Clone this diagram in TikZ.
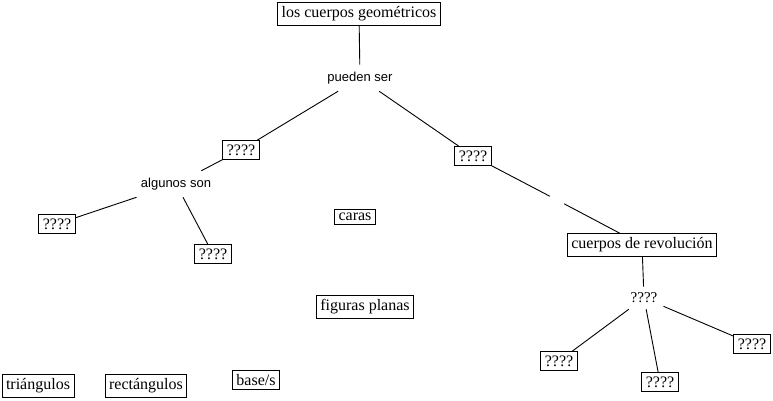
\documentclass[tikz,border=0pt]{standalone}
\usepackage{fontspec}
\setmainfont{Liberation Serif}
\newfontfamily\phrasefont{Liberation Sans}
\usetikzlibrary{positioning}

\begin{document}
\begin{tikzpicture}[x=1pt, y=-1pt, font=\fontsize{16}{18}\selectfont,
  concept/.style={draw, line width=0.9pt, inner xsep=4pt, inner ysep=4pt},
  phrase/.style={font=\phrasefont\fontsize{13}{15}\selectfont, inner sep=7pt},
  link/.style={line width=0.9pt}]

\useasboundingbox (0,0) rectangle (773,401);

%main concept and its linking phrase
\node[concept] (cuerpos) at (359,14) {los cuerpos geométricos};
\node[phrase] (pueden) at (360,78) {pueden ser};

%left branch
\node[concept] (tipoA) at (241,150) {????};
\node[phrase] (algunos) at (176,184) {algunos son};
\node[concept] (algA) at (57,224) {????};
\node[concept] (algB) at (213,254) {????};

%right branch, the middle of the line is left blank
\node[concept] (tipoB) at (473,156) {????};
\node[inner sep=0pt, minimum size=14pt] (blank) at (557,200) {};
\node[concept] (revol) at (642,245) {cuerpos de revolución};
\node[inner sep=6pt, font=\fontsize{15}{17}\selectfont] (revq) at (644,298) {????};
\node[concept] (revA) at (559,361) {????};
\node[concept] (revB) at (660,382) {????};
\node[concept] (revC) at (752,344) {????};

%loose concepts, not yet linked
\node[concept] (caras) at (355,217) {caras};
\node[concept] (figuras) at (365,307) {figuras planas};
\node[concept] (triang) at (38,386) {triángulos};
\node[concept] (rect) at (146,386) {rectángulos};
\node[concept] (bases) at (256,380) {base/s};

%all connections
\foreach \a/\b in {cuerpos/pueden, pueden/tipoA, pueden/tipoB,
    tipoA/algunos, algunos/algA, algunos/algB,
    tipoB/blank, blank/revol, revol/revq,
    revq/revA, revq/revB, revq/revC} {
    \draw[link] (\a) -- (\b);
}

\end{tikzpicture}
\end{document}
